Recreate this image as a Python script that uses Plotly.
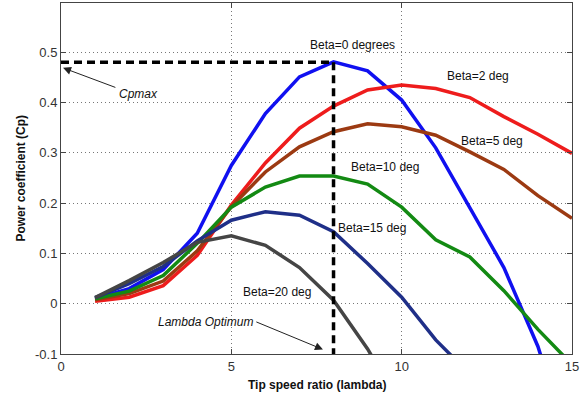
import plotly.graph_objects as go

# ---- data ----
lambdas = [1, 2, 3, 4, 5, 6, 7, 8, 9, 10, 11, 12, 13, 14, 15]
cp_beta0 = [0.010, 0.030, 0.068, 0.140, 0.275, 0.378, 0.451, 0.481, 0.463, 0.405, 0.310, 0.190, 0.072, -0.085, -0.300]
cp_beta2 = [0.005, 0.013, 0.036, 0.096, 0.196, 0.280, 0.349, 0.393, 0.425, 0.435, 0.428, 0.410, 0.372, 0.337, 0.299]
cp_beta5 = [0.008, 0.020, 0.045, 0.105, 0.193, 0.262, 0.312, 0.342, 0.358, 0.352, 0.335, 0.302, 0.267, 0.215, 0.170]
cp_beta10 = [0.010, 0.025, 0.056, 0.120, 0.192, 0.232, 0.254, 0.254, 0.238, 0.192, 0.127, 0.093, 0.026, -0.051, -0.121]
cp_beta15 = [0.012, 0.040, 0.074, 0.125, 0.166, 0.183, 0.176, 0.143, 0.080, 0.013, -0.072, -0.140, -0.220, -0.310, -0.400]
cp_beta20 = [0.012, 0.046, 0.082, 0.122, 0.135, 0.116, 0.072, 0.007, -0.090, -0.200, -0.320, -0.450, -0.580, -0.720, -0.860]

lambda_opt = 8
cp_max = 0.48

x_ticks = [0, 5, 10, 15]
y_ticks = [-0.1, 0, 0.1, 0.2, 0.3, 0.4, 0.5]
y_tick_text = ["-0.1", "0", "0.1", "0.2", "0.3", "0.4", "0.5"]

series = [
    (cp_beta0, "#1010f0"),
    (cp_beta2, "#ee1c1c"),
    (cp_beta5, "#9c3a12"),
    (cp_beta10, "#138a13"),
    (cp_beta15, "#1f2f88"),
    (cp_beta20, "#454545"),
]

fig = go.Figure()
for vals, col in series:
    fig.add_trace(go.Scatter(x=lambdas, y=vals, mode="lines",
                             line=dict(color=col, width=3.5), showlegend=False))

# dashed optimum lines
fig.add_trace(go.Scatter(x=[0, lambda_opt], y=[cp_max, cp_max], mode="lines",
                         line=dict(color="black", width=3.5, dash="8px,5px"), showlegend=False))
fig.add_trace(go.Scatter(x=[lambda_opt, lambda_opt], y=[cp_max, -0.1], mode="lines",
                         line=dict(color="black", width=3.5, dash="8px,5px"), showlegend=False))

font_main = "Liberation Sans, Arial, sans-serif"
labels = [
    ("Beta=0 degrees", 8.57, 0.515),
    ("Beta=2 deg", 12.24, 0.453),
    ("Beta=5 deg", 12.65, 0.324),
    ("Beta=10 deg", 9.51, 0.272),
    ("Beta=15 deg", 9.13, 0.151),
    ("Beta=20 deg", 6.34, 0.023),
]
annotations = []
for t, x, y in labels:
    annotations.append(dict(x=x, y=y, text=t, showarrow=False, xref="x", yref="y",
                            font=dict(size=12, color="#111", family=font_main)))

annotations.append(dict(x=2.28, y=0.418, text="<i>Cpmax</i>", showarrow=False,
                        font=dict(size=12, color="#111", family=font_main)))
annotations.append(dict(x=0.06, y=0.469, ax=1.64, ay=0.429, axref="x", ayref="y",
                        xref="x", yref="y", text="", showarrow=True,
                        arrowhead=2, arrowsize=1.6, arrowwidth=1, arrowcolor="#222"))
annotations.append(dict(x=4.23, y=-0.036, text="<i>Lambda Optimum</i>", showarrow=False,
                        font=dict(size=12, color="#111", family=font_main)))
annotations.append(dict(x=7.69, y=-0.091, ax=5.69, ay=-0.035, axref="x", ayref="y",
                        xref="x", yref="y", text="", showarrow=True,
                        arrowhead=2, arrowsize=1.6, arrowwidth=1, arrowcolor="#222"))
annotations.append(dict(x=-0.08, y=0.5, xref="paper", yref="paper", xanchor="center",
                        yanchor="middle", textangle=-90, showarrow=False,
                        text="<b>Power coefficient (Cp)</b>",
                        font=dict(size=12, family=font_main, color="#111")))
annotations.append(dict(x=0.5, y=-0.088, xref="paper", yref="paper", xanchor="center",
                        yanchor="middle", showarrow=False,
                        text="<b>Tip speed ratio (lambda)</b>",
                        font=dict(size=12, family=font_main, color="#111")))

fig.update_layout(
    width=582, height=398,
    margin=dict(l=61, r=10, t=3, b=44),
    paper_bgcolor="white", plot_bgcolor="white",
    font=dict(family=font_main, size=12, color="#222"),
    annotations=annotations,
    xaxis=dict(range=[0, 15], tickvals=x_ticks, showgrid=True, gridcolor="#777",
               griddash="1px,3px", gridwidth=1, zeroline=False, showline=True,
               linecolor="#444", linewidth=1, mirror="ticks", ticks="inside",
               ticklen=5, tickcolor="#444", automargin=False,
               tickfont=dict(size=13, family=font_main, color="#333")),
    yaxis=dict(range=[-0.1, 0.598], tickvals=y_ticks, ticktext=y_tick_text,
               showgrid=True, gridcolor="#777", griddash="1px,3px", gridwidth=1,
               zeroline=False, showline=True, linecolor="#444", linewidth=1,
               mirror="ticks", ticks="inside", ticklen=5, tickcolor="#444",
               automargin=False,
               tickfont=dict(size=13, family=font_main, color="#333")),
)

fig.write_html("out.html", config={"displayModeBar": False},
               post_script="document.body.style.margin='0';")
